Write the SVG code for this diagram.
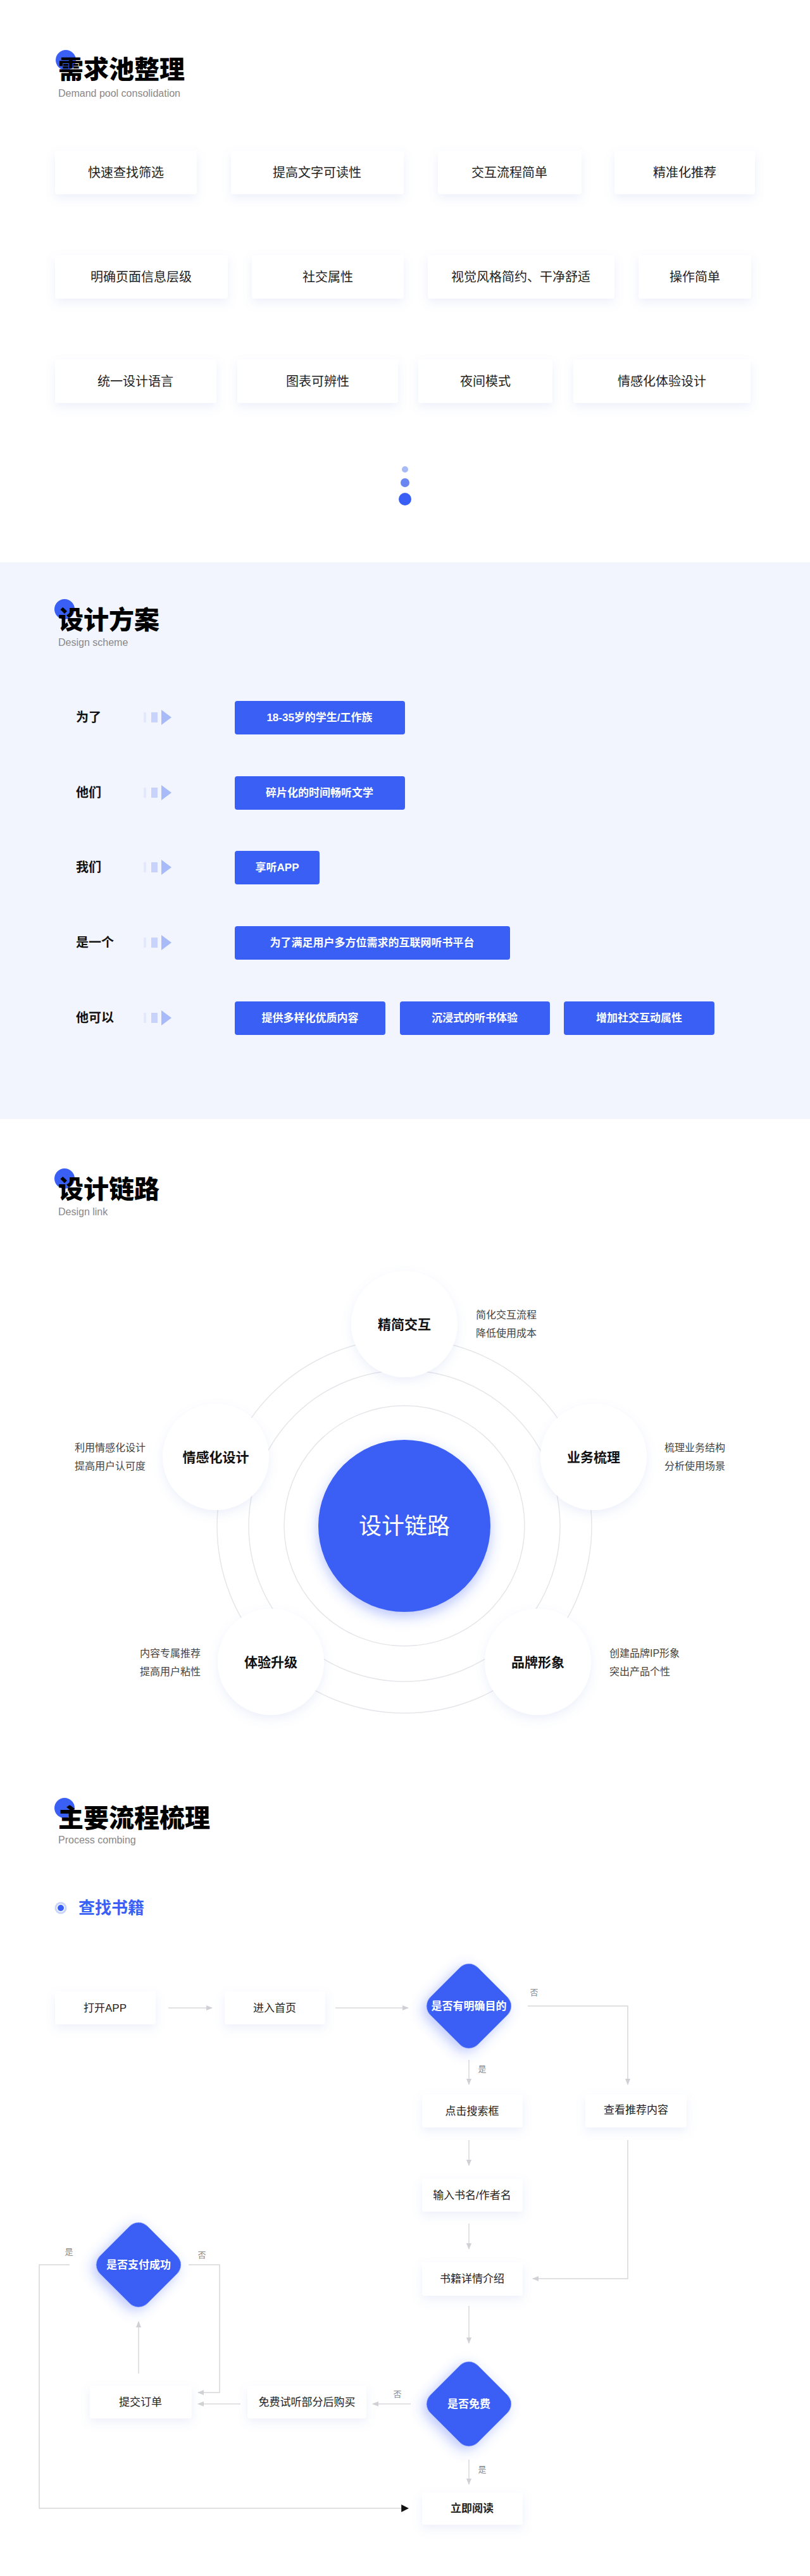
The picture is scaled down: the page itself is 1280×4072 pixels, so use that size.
<svg xmlns="http://www.w3.org/2000/svg" width="1280" height="4072" viewBox="0 0 1280 4072">
<style>
.t{font-family:"Liberation Serif","Noto Sans CJK SC",serif;font-weight:900;font-size:40px;fill:#000}
.sub{font-family:"Liberation Sans","Noto Sans CJK SC",sans-serif;font-size:16px;fill:#888}
.c{font-family:"Liberation Sans","Noto Sans CJK SC",sans-serif;font-size:20px;fill:#222;text-anchor:middle;dominant-baseline:central}
.lab{font-family:"Liberation Sans","Noto Sans CJK SC",sans-serif;font-size:20px;fill:#111;font-weight:bold;dominant-baseline:central}
.w{font-family:"Liberation Sans","Noto Sans CJK SC",sans-serif;font-size:17px;font-weight:bold;fill:#fff;text-anchor:middle;dominant-baseline:central}
.card{fill:#fff;filter:url(#sh)}
.bb{fill:#3a5ff5;rx:4}
.sat{font-family:"Liberation Sans","Noto Sans CJK SC",sans-serif;font-size:21px;fill:#111;font-weight:bold;text-anchor:middle;dominant-baseline:central}
.d{font-family:"Liberation Sans","Noto Sans CJK SC",sans-serif;font-size:16px;fill:#444}
.ring{fill:none;stroke:#e6e6ea;stroke-width:1.5}
.f{font-family:"Liberation Sans","Noto Sans CJK SC",sans-serif;font-size:17px;fill:#222;text-anchor:middle;dominant-baseline:central}
.fw{font-family:"Liberation Sans","Noto Sans CJK SC",sans-serif;font-size:17px;fill:#fff;font-weight:bold;text-anchor:middle;dominant-baseline:central}
.yn{font-family:"Liberation Sans","Noto Sans CJK SC",sans-serif;font-size:13px;fill:#888;text-anchor:middle;dominant-baseline:central}
.ln{fill:none;stroke:#d8d8dc;stroke-width:1.5}
.dia{fill:#3a5ff5;filter:url(#bsh)}
</style>
<defs>
<filter id="sh" x="-20%" y="-30%" width="140%" height="180%"><feDropShadow dx="0" dy="6" stdDeviation="8" flood-color="#6a7fd0" flood-opacity="0.12"/></filter>
<filter id="bsh" x="-40%" y="-40%" width="180%" height="180%"><feDropShadow dx="0" dy="8" stdDeviation="10" flood-color="#3a5ff5" flood-opacity="0.35"/></filter>
<marker id="ah" viewBox="0 0 10 10" refX="9" refY="5" markerWidth="7" markerHeight="7" orient="auto"><path d="M0,1 L10,5 L0,9 z" fill="#d0d0d6"/></marker>
<marker id="ak" viewBox="0 0 10 10" refX="9" refY="5" markerWidth="8" markerHeight="8" orient="auto"><path d="M0,0 L10,5 L0,10 z" fill="#111"/></marker>
<g id="arr"><rect x="0" y="-8" width="4" height="16" fill="#e3e9fd"/><rect x="12" y="-8" width="10" height="16" fill="#c7d3fb"/><path d="M28,-12 L44,0 L28,12 z" fill="#a8bbf8"/></g>
</defs>
<rect width="1280" height="4072" fill="#fff"/>

<g id="s1-title"><circle cx="104" cy="95" r="16" fill="#3a5ff5"/><text class="t" x="92" y="124">需求池整理</text><text class="sub" x="92" y="153">Demand pool consolidation</text></g>
<g id="n1"><rect class="card" x="87" y="238" width="224" height="69" rx="4"/><text class="c" x="199" y="273">快速查找筛选</text></g>
<g id="n2"><rect class="card" x="365" y="238" width="273" height="69" rx="4"/><text class="c" x="501" y="273">提高文字可读性</text></g>
<g id="n3"><rect class="card" x="692" y="238" width="227" height="69" rx="4"/><text class="c" x="805" y="273">交互流程简单</text></g>
<g id="n4"><rect class="card" x="971" y="238" width="222" height="69" rx="4"/><text class="c" x="1082" y="273">精准化推荐</text></g>
<g id="n5"><rect class="card" x="87" y="403" width="273" height="69" rx="4"/><text class="c" x="223" y="438">明确页面信息层级</text></g>
<g id="n6"><rect class="card" x="398" y="403" width="240" height="69" rx="4"/><text class="c" x="518" y="438">社交属性</text></g>
<g id="n7"><rect class="card" x="676" y="403" width="295" height="69" rx="4"/><text class="c" x="823" y="438">视觉风格简约、干净舒适</text></g>
<g id="n8"><rect class="card" x="1009" y="403" width="178" height="69" rx="4"/><text class="c" x="1098" y="438">操作简单</text></g>
<g id="n9"><rect class="card" x="87" y="568" width="255" height="69" rx="4"/><text class="c" x="214" y="603">统一设计语言</text></g>
<g id="n10"><rect class="card" x="375" y="568" width="254" height="69" rx="4"/><text class="c" x="502" y="603">图表可辨性</text></g>
<g id="n11"><rect class="card" x="661" y="568" width="212" height="69" rx="4"/><text class="c" x="767" y="603">夜间模式</text></g>
<g id="n12"><rect class="card" x="906" y="568" width="280" height="69" rx="4"/><text class="c" x="1046" y="603">情感化体验设计</text></g>
<g id="dots"><circle cx="640" cy="742" r="5" fill="#a9bbf7"/><circle cx="640" cy="763" r="7" fill="#6a86f2"/><circle cx="640" cy="789" r="10" fill="#3a5ff5"/></g>

<rect x="0" y="889" width="1280" height="880" fill="#f2f5fd"/>
<g id="s2-title"><circle cx="102" cy="963" r="16" fill="#3a5ff5"/><text class="t" x="92" y="994">设计方案</text><text class="sub" x="92" y="1021">Design scheme</text></g>
<g id="r1"><text class="lab" x="120" y="1134">为了</text><use href="#arr" x="227" y="1134"/><rect class="bb" x="371" y="1108" width="269" height="53"/><text class="w" x="505" y="1134">18-35岁的学生/工作族</text></g>
<g id="r2"><text class="lab" x="120" y="1253">他们</text><use href="#arr" x="227" y="1253"/><rect class="bb" x="371" y="1227" width="269" height="53"/><text class="w" x="505" y="1253">碎片化的时间畅听文学</text></g>
<g id="r3"><text class="lab" x="120" y="1371">我们</text><use href="#arr" x="227" y="1371"/><rect class="bb" x="371" y="1345" width="134" height="53"/><text class="w" x="438" y="1371">享听APP</text></g>
<g id="r4"><text class="lab" x="120" y="1490">是一个</text><use href="#arr" x="227" y="1490"/><rect class="bb" x="371" y="1464" width="435" height="53"/><text class="w" x="588" y="1490">为了满足用户多方位需求的互联网听书平台</text></g>
<g id="r5"><text class="lab" x="120" y="1609">他可以</text><use href="#arr" x="227" y="1609"/>
<rect class="bb" x="371" y="1583" width="238" height="53"/><text class="w" x="490" y="1609">提供多样化优质内容</text>
<rect class="bb" x="632" y="1583" width="237" height="53"/><text class="w" x="750" y="1609">沉浸式的听书体验</text>
<rect class="bb" x="891" y="1583" width="238" height="53"/><text class="w" x="1010" y="1609">增加社交互动属性</text></g>

<g id="s3-title"><circle cx="102" cy="1863" r="16" fill="#3a5ff5"/><text class="t" x="92" y="1894">设计链路</text><text class="sub" x="92" y="1921">Design link</text></g>
<g id="rings"><circle class="ring" cx="639" cy="2412" r="190"/><circle class="ring" cx="639" cy="2412" r="246"/><circle class="ring" cx="639" cy="2412" r="296"/></g>
<g id="center"><circle cx="639" cy="2412" r="136" fill="#3a5ff5" filter="url(#bsh)"/><text x="639" y="2412" font-family="Liberation Sans,Noto Sans CJK SC,sans-serif" font-size="36" fill="#fff" text-anchor="middle" dominant-baseline="central">设计链路</text></g>
<g id="sat1"><circle cx="639" cy="2093" r="84" fill="#fff" filter="url(#sh)"/><text class="sat" x="639" y="2093">精简交互</text><text class="d" x="752" y="2084">简化交互流程</text><text class="d" x="752" y="2113">降低使用成本</text></g>
<g id="sat2"><circle cx="938" cy="2303" r="84" fill="#fff" filter="url(#sh)"/><text class="sat" x="938" y="2303">业务梳理</text><text class="d" x="1050" y="2294">梳理业务结构</text><text class="d" x="1050" y="2323">分析使用场景</text></g>
<g id="sat3"><circle cx="341" cy="2303" r="84" fill="#fff" filter="url(#sh)"/><text class="sat" x="341" y="2303">情感化设计</text><text class="d" x="230" y="2294" text-anchor="end">利用情感化设计</text><text class="d" x="230" y="2323" text-anchor="end">提高用户认可度</text></g>
<g id="sat4"><circle cx="428" cy="2627" r="84" fill="#fff" filter="url(#sh)"/><text class="sat" x="428" y="2627">体验升级</text><text class="d" x="317" y="2619" text-anchor="end">内容专属推荐</text><text class="d" x="317" y="2648" text-anchor="end">提高用户粘性</text></g>
<g id="sat5"><circle cx="850" cy="2627" r="84" fill="#fff" filter="url(#sh)"/><text class="sat" x="850" y="2627">品牌形象</text><text class="d" x="963" y="2619">创建品牌IP形象</text><text class="d" x="963" y="2648">突出产品个性</text></g>

<g id="s4-title"><circle cx="102" cy="2858" r="16" fill="#3a5ff5"/><text class="t" x="92" y="2888">主要流程梳理</text><text class="sub" x="92" y="2914">Process combing</text>
<circle cx="96" cy="3016" r="8" fill="none" stroke="#c9d4fb" stroke-width="3"/><circle cx="96" cy="3016" r="5" fill="#3a5ff5"/>
<text x="124" y="3025" font-family="Liberation Sans,Noto Sans CJK SC,sans-serif" font-size="26" font-weight="bold" fill="#3a5ff5">查找书籍</text></g>

<g id="connectors">
<line class="ln" x1="266" y1="3174" x2="335" y2="3174" marker-end="url(#ah)"/>
<line class="ln" x1="530" y1="3174" x2="645" y2="3174" marker-end="url(#ah)"/>
<path class="ln" d="M834,3171 H992 V3295" marker-end="url(#ah)"/>
<line class="ln" x1="741" y1="3256" x2="741" y2="3295" marker-end="url(#ah)"/>
<line class="ln" x1="741" y1="3383" x2="741" y2="3423" marker-end="url(#ah)"/>
<line class="ln" x1="741" y1="3515" x2="741" y2="3555" marker-end="url(#ah)"/>
<path class="ln" d="M992,3383 V3602 H842" marker-end="url(#ah)"/>
<line class="ln" x1="741" y1="3645" x2="741" y2="3704" marker-end="url(#ah)"/>
<line class="ln" x1="741" y1="3888" x2="741" y2="3927" marker-end="url(#ah)"/>
<line class="ln" x1="649" y1="3800" x2="589" y2="3800" marker-end="url(#ah)"/>
<line class="ln" x1="380" y1="3800" x2="313" y2="3800" marker-end="url(#ah)"/>
<line class="ln" x1="219" y1="3752" x2="219" y2="3670" marker-end="url(#ah)"/>
<path class="ln" d="M298,3580 H347 V3782 H313" marker-end="url(#ah)"/>
<path class="ln" d="M110,3580 H62 V3965 H645" marker-end="url(#ak)"/>
<text class="yn" x="844" y="3149">否</text>
<text class="yn" x="762" y="3270">是</text>
<text class="yn" x="762" y="3903">是</text>
<text class="yn" x="628" y="3784">否</text>
<text class="yn" x="319" y="3564">否</text>
<text class="yn" x="109" y="3559">是</text>
</g>

<g id="f1"><rect class="card" x="87" y="3148" width="159" height="52" rx="4"/><text class="f" x="166" y="3174">打开APP</text></g>
<g id="f2"><rect class="card" x="355" y="3148" width="159" height="52" rx="4"/><text class="f" x="434" y="3174">进入首页</text></g>
<g id="f3"><rect class="dia" x="688" y="3118" width="106" height="106" rx="20" transform="rotate(45 741 3171)"/><text class="fw" x="741" y="3171">是否有明确目的</text></g>
<g id="f4"><rect class="card" x="667" y="3311" width="159" height="52" rx="4"/><text class="f" x="746" y="3337">点击搜索框</text></g>
<g id="f5"><rect class="card" x="925" y="3311" width="160" height="52" rx="4"/><text class="f" x="1005" y="3335">查看推荐内容</text></g>
<g id="f6"><rect class="card" x="667" y="3444" width="159" height="52" rx="4"/><text class="f" x="746" y="3470">输入书名/作者名</text></g>
<g id="f7"><rect class="card" x="667" y="3576" width="159" height="53" rx="4"/><text class="f" x="746" y="3602">书籍详情介绍</text></g>
<g id="f8"><rect class="dia" x="688" y="3747" width="106" height="106" rx="20" transform="rotate(45 741 3800)"/><text class="fw" x="741" y="3800">是否免费</text></g>
<g id="f9"><rect class="card" x="667" y="3940" width="159" height="51" rx="4"/><text class="f" x="746" y="3965" font-weight="bold">立即阅读</text></g>
<g id="f10"><rect class="card" x="391" y="3771" width="188" height="52" rx="4"/><text class="f" x="485" y="3797">免费试听部分后购买</text></g>
<g id="f11"><rect class="card" x="142" y="3771" width="161" height="52" rx="4"/><text class="f" x="222" y="3797">提交订单</text></g>
<g id="f12"><rect class="dia" x="166" y="3527" width="106" height="106" rx="20" transform="rotate(45 219 3580)"/><text class="fw" x="219" y="3580">是否支付成功</text></g>
</svg>
